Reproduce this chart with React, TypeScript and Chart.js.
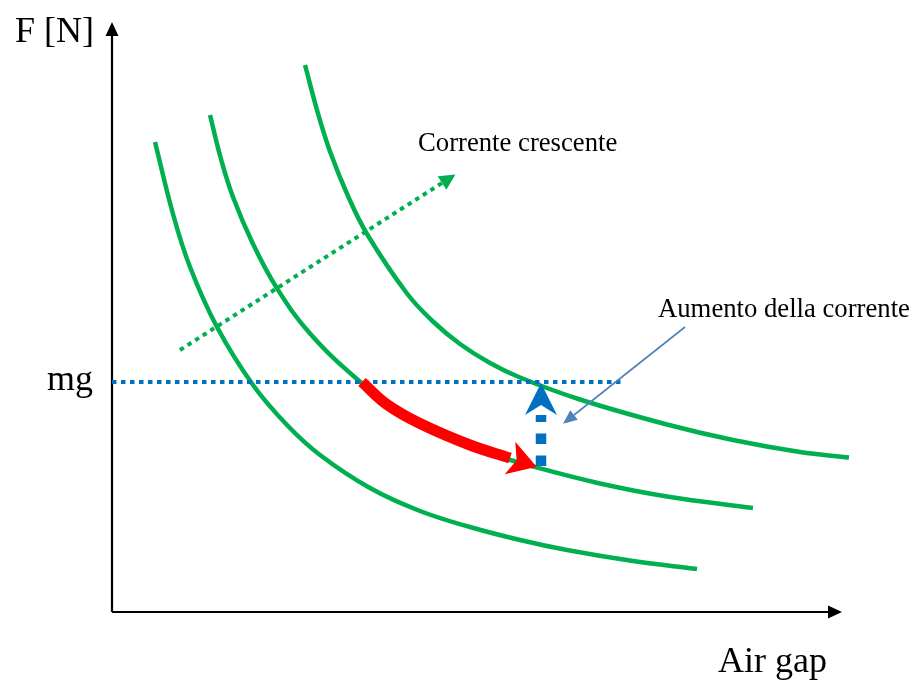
import React, { useEffect, useRef } from "react";
import { Chart, registerables } from "chart.js";

Chart.register(...registerables);

// Arbitrary schematic units: x = air gap, y = force
const X_MAX = 740;
const Y_MAX = 590;

// Three force curves (increasing current from left to right)
const curve1X = [43, 61, 78, 105, 141, 175, 208, 258, 308, 358, 408, 455, 521, 585];
const curve1Y = [470, 398, 345, 285, 227, 187, 157, 124, 101, 85, 72, 62, 51, 43];
const curve2X = [98, 109, 121, 141, 165, 198, 246, 288, 338, 378, 421, 488, 555, 641];
const curve2Y = [497, 453, 415, 368, 323.6, 278.5, 232, 200.5, 174, 158.5, 145.5, 128.5, 115.5, 104];
const curve3X = [193, 206, 218, 236, 255, 295, 321, 348, 378, 408, 468, 555, 621, 688, 737];
const curve3Y = [547, 498.5, 460.5, 416, 378, 318.5, 290.5, 268, 249, 234.5, 212.5, 187.5, 172, 160, 154.5];

// mg level
const mgLevel = 230;
const mgLineX = [0, 513];

// red arrow along curve 2
const redX = [250, 275, 308, 358, 398];
const redY = [230, 207.5, 188.5, 167, 154];

// blue vertical dotted arrow
const blueX = [429, 429];
const blueY = [146, 197];

// green dotted arrow ("Corrente crescente")
const greenArrowX = [68, 330];
const greenArrowY = [262, 429];

// annotation arrow ("Aumento della corrente")
const annX = [573, 462];
const annY = [285, 197];

// axes
const axisXEnd = 716;
const axisYEnd = 576;

const GREEN = "#00B050";
const BLUE = "#0070C0";
const RED = "#FF0000";
const ANN = "#4F81BD";
const FONT = "'Liberation Serif', 'Times New Roman', serif";

const pts = (xs: number[], ys: number[]) => xs.map((x, i) => ({ x, y: ys[i] }));

type Head = { ds: number; len: number; half: number; notch: number; color: string };

const heads: Head[] = [
  { ds: 0, len: 14, half: 6.5, notch: 0, color: "#000" },
  { ds: 1, len: 14, half: 6.5, notch: 0, color: "#000" },
  { ds: 6, len: 28, half: 17, notch: 7, color: RED },
  { ds: 7, len: 32, half: 16, notch: 10, color: BLUE },
  { ds: 8, len: 16, half: 8, notch: 0, color: GREEN },
  { ds: 9, len: 14, half: 6, notch: 0, color: ANN },
];

const arrowPlugin = {
  id: "arrows",
  afterDatasetsDraw(chart: any) {
    const ctx = chart.ctx as CanvasRenderingContext2D;
    const xs = chart.scales.x;
    const ys = chart.scales.y;
    for (const h of heads) {
      const data = chart.data.datasets[h.ds].data as { x: number; y: number }[];
      const a = data[data.length - 2];
      const b = data[data.length - 1];
      const ax = xs.getPixelForValue(a.x), ay = ys.getPixelForValue(a.y);
      const bx = xs.getPixelForValue(b.x), by = ys.getPixelForValue(b.y);
      const L = Math.hypot(bx - ax, by - ay);
      const dx = (bx - ax) / L, dy = (by - ay) / L;
      const nx = -dy, ny = dx;
      const tipX = bx + dx * h.len, tipY = by + dy * h.len;
      ctx.save();
      ctx.fillStyle = h.color;
      ctx.beginPath();
      ctx.moveTo(tipX, tipY);
      ctx.lineTo(bx + nx * h.half, by + ny * h.half);
      ctx.lineTo(bx + dx * h.notch, by + dy * h.notch);
      ctx.lineTo(bx - nx * h.half, by - ny * h.half);
      ctx.closePath();
      ctx.fill();
      ctx.restore();
    }
  },
  afterDraw(chart: any) {
    const ctx = chart.ctx as CanvasRenderingContext2D;
    const ys = chart.scales.y;
    ctx.save();
    ctx.fillStyle = "#000";
    ctx.textBaseline = "alphabetic";
    ctx.font = `36px ${FONT}`;
    ctx.textAlign = "left";
    ctx.fillText("F [N]", 15, 42);
    ctx.fillText("mg", 47, ys.getPixelForValue(mgLevel) + 8);
    ctx.fillText("Air gap", 718, 672);
    ctx.font = `26.7px ${FONT}`;
    ctx.fillText("Corrente crescente", 418, 151);
    ctx.fillText("Aumento della corrente", 658, 317);
    ctx.restore();
  },
};

export default function App() {
  const ref = useRef<HTMLCanvasElement | null>(null);
  useEffect(() => {
    if (!ref.current) return;
    const line = (data: any, color: string, width: number, dash: number[] = [], extra: any = {}) => ({
      data,
      borderColor: color,
      backgroundColor: color,
      borderWidth: width,
      borderDash: dash,
      showLine: true,
      pointRadius: 0,
      pointHoverRadius: 0,
      fill: false,
      clip: false,
      borderCapStyle: "butt",
      tension: 0,
      ...extra,
    });
    const smooth = { tension: 0.4 };
    const chart = new Chart(ref.current, {
      type: "scatter",
      data: {
        datasets: [
          line(pts([0, axisXEnd], [0, 0]), "#000", 2.2),
          line(pts([0, 0], [0, axisYEnd]), "#000", 2.2),
          line(pts(curve1X, curve1Y), GREEN, 4.5, [], smooth),
          line(pts(curve2X, curve2Y), GREEN, 4.5, [], smooth),
          line(pts(curve3X, curve3Y), GREEN, 4.5, [], smooth),
          line(pts(mgLineX, [mgLevel, mgLevel]), BLUE, 4, [4.5, 4.5]),
          line(pts(redX, redY), RED, 11, [], smooth),
          line(pts(blueX, blueY), BLUE, 10.5, [10.5, 11.5]),
          line(pts(greenArrowX, greenArrowY), GREEN, 4, [4.5, 4.5]),
          line(pts(annX, annY), ANN, 1.6),
        ].map((d, i) => ({ ...d, order: 20 - i })) as any,
      },
      options: {
        responsive: false,
        animation: false,
        devicePixelRatio: 1,
        layout: { padding: { left: 112, right: 917 - 852, top: 22, bottom: 681 - 612 } },
        plugins: { legend: { display: false }, tooltip: { enabled: false } },
        events: [],
        scales: {
          x: { type: "linear", min: 0, max: X_MAX, display: false },
          y: { type: "linear", min: 0, max: Y_MAX, display: false },
        },
      } as any,
      plugins: [arrowPlugin],
    });
    return () => chart.destroy();
  }, []);
  return (
    <div style={{ position: "absolute", left: 0, top: 0, width: 917, height: 681, background: "#fff" }}>
      <canvas ref={ref} width={917} height={681} style={{ width: 917, height: 681 }} />
    </div>
  );
}
